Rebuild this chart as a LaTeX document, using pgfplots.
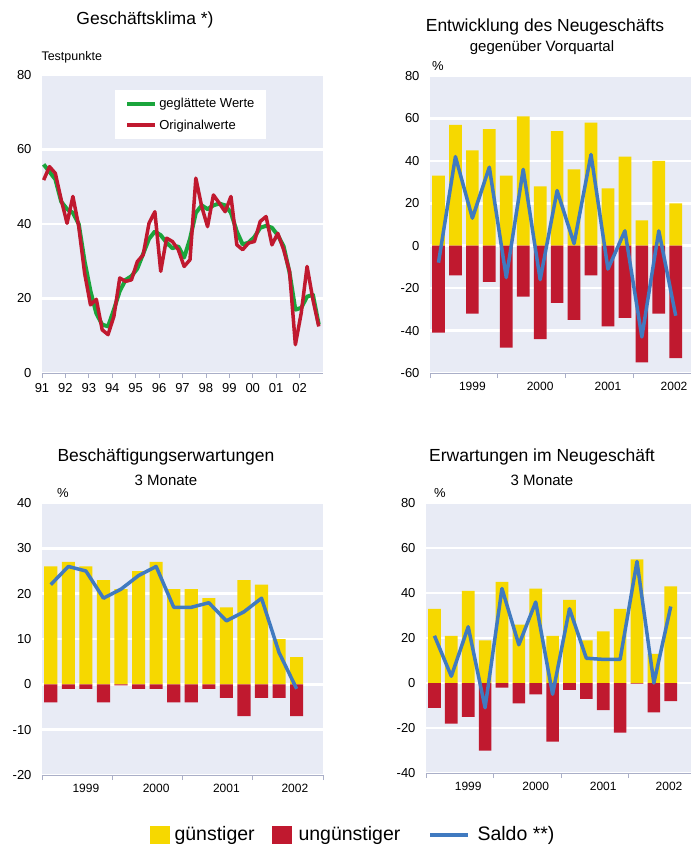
\documentclass[border=0pt]{standalone}
\usepackage{pgfplots}
\pgfplotsset{compat=1.18}
\usepackage{fontspec}
\setmainfont{Liberation Sans}
\definecolor{bgc}{RGB}{232,235,245}
\definecolor{gelb}{RGB}{246,216,0}
\definecolor{rot}{RGB}{192,25,47}
\definecolor{blau}{RGB}{64,122,192}
\definecolor{gruen}{RGB}{26,165,60}
\definecolor{achse}{RGB}{170,175,200}
\pgfplotsset{
  panel/.style={scale only axis,
    axis background/.style={fill=bgc},
    axis x line*=bottom, axis y line*=left,
    y axis line style={draw=none},
    x axis line style={achse, line width=0.8pt},
    xtick style={achse, line width=0.8pt}, major tick length=5pt,
    ytick style={draw=none},
    tick align=outside,
    ymajorgrids, grid style={white, line width=2.5pt},
    /pgf/number format/assume math mode=true,
    tick label style={font=\fontsize{13}{15}\selectfont},
    yticklabel style={xshift=-2pt},
    clip=false},
  barpanel/.style={panel, xmin=-0.5,
    xtick={-0.5,3.5,7.5,11.5,15.5}, xticklabels={},
    extra x ticks={2,6,10,13.9}, extra x tick labels={1999,2000,2001,2002},
    extra x tick style={major tick length=0pt, grid=none,
      xticklabel style={font=\fontsize{12}{14}\selectfont, yshift=-6pt}}},
}
\newcommand{\gel}{\addplot[ybar, bar width=0.75, bar shift=0pt, fill=gelb, draw=none]}
\newcommand{\ro}{\addplot[ybar, bar width=0.75, bar shift=0pt, fill=rot, draw=none]}
\newcommand{\bl}{\addplot[blau, line width=3.5pt, line join=round]}
\begin{document}
\begin{tikzpicture}[x=1pt,y=1pt]
\useasboundingbox (0,0) rectangle (691,-846);
% Panel 1
\begin{axis}[panel, at={(42pt,-373pt)}, anchor=south west, width=281pt, height=298pt,
  xmin=1991, xmax=2003, ymin=0, ymax=80, ytick={0,20,40,60,80},
  xtick={1991,...,2002}, xticklabels={91,92,93,94,95,96,97,98,99,00,01,02},
  xticklabel style={yshift=-2pt},
  legend style={at={(0.26,0.95)}, anchor=north west, draw=none, fill=white,
    font=\fontsize{13}{15}\selectfont, inner xsep=10pt, inner ysep=6pt, row sep=7pt},
  legend cell align=left,
  legend image code/.code={\draw[#1, line width=4pt] (0pt,0pt) -- (28pt,0pt);}]
\addplot[gruen, line width=4pt, line join=round] table[x expr=1991.07+0.25*\coordindex, y index=0] {
y
56
54
52
46
44
43
40
30
22
16
13
12.5
17
22
25
26
28
32
36
38
37
35
33.5
34
31
36
43
45
44
45
45.5
45
43
38
34.5
35
36.5
39
39.5
39
37
34
27
17
17.5
20.5
21
13
};
\addlegendentry{geglättete Werte}
\addplot[rot, line width=3.5pt, line join=round] table[x expr=1991.07+0.25*\coordindex, y index=0] {
y
51.8
55.4
53.6
46.5
40.2
47.4
39.3
26.8
18.3
19.8
11.6
10.3
15.2
25.5
24.6
25.0
29.9
31.7
40.2
43.3
27.3
36.2
35.3
33.1
28.6
30.4
52.3
44.7
39.3
47.8
45.6
43.3
47.4
34.4
33.1
34.9
35.3
40.7
42.0
34.4
37.5
33.1
27.3
7.6
16.1
28.6
19.7
12.5
};
\addlegendentry{Originalwerte}
\end{axis}
\node[font=\fontsize{17.5}{20}\selectfont] at (145,-20) {Geschäftsklima *)};
\node[font=\fontsize{12.5}{14}\selectfont, anchor=west] at (38,-57) {Testpunkte};
% Panel 2
\begin{axis}[barpanel, at={(430pt,-373pt)}, anchor=south west, width=261pt, height=297pt,
  xmax=14.9, ymin=-60, ymax=80, ytick={-60,-40,...,80}]
\gel coordinates {(0,33)(1,57)(2,45)(3,55)(4,33)(5,61)(6,28)(7,54)(8,36)(9,58)(10,27)(11,42)(12,12)(13,40)(14,20)};
\ro coordinates {(0,-41)(1,-14)(2,-32)(3,-17)(4,-48)(5,-24)(6,-44)(7,-27)(8,-35)(9,-14)(10,-38)(11,-34)(12,-55)(13,-32)(14,-53)};
\bl coordinates {(0,-8)(1,42)(2,13)(3,37)(4,-15)(5,36)(6,-16)(7,26)(8,1)(9,43)(10,-11)(11,7)(12,-43)(13,7)(14,-33)};
\end{axis}
\node[font=\fontsize{17.5}{20}\selectfont] at (545,-27) {Entwicklung des Neugeschäfts};
\node[font=\fontsize{15}{17}\selectfont] at (542,-48) {gegenüber Vorquartal};
\node[font=\fontsize{13}{15}\selectfont] at (438,-66) {\%};
% Panel 3
\begin{axis}[barpanel, at={(42pt,-775pt)}, anchor=south west, width=281pt, height=272pt,
  xmax=15.5, ymin=-20, ymax=40, ytick={-20,-10,...,40}]
\gel coordinates {(0,26)(1,27)(2,26)(3,23)(4,21)(5,25)(6,27)(7,21)(8,21)(9,19)(10,17)(11,23)(12,22)(13,10)(14,6)};
\ro coordinates {(0,-4)(1,-1)(2,-1)(3,-4)(4,-0.2)(5,-1)(6,-1)(7,-4)(8,-4)(9,-1)(10,-3)(11,-7)(12,-3)(13,-3)(14,-7)};
\bl coordinates {(0,22)(1,26)(2,25)(3,19)(4,21)(5,24)(6,26)(7,17)(8,17)(9,18)(10,14)(11,16)(12,19)(13,7)(14,-1)};
\end{axis}
\node[font=\fontsize{17.5}{20}\selectfont] at (166,-457) {Beschäftigungserwartungen};
\node[font=\fontsize{15}{17}\selectfont] at (166,-480) {3 Monate};
\node[font=\fontsize{13}{15}\selectfont] at (63,-493) {\%};
% Panel 4
\begin{axis}[barpanel, at={(426pt,-773pt)}, anchor=south west, width=265pt, height=270pt,
  xmax=15.2, ymin=-40, ymax=80, ytick={-40,-20,...,80}]
\gel coordinates {(0,33)(1,21)(2,41)(3,19)(4,45)(5,26)(6,42)(7,21)(8,37)(9,19)(10,23)(11,33)(12,55)(13,13)(14,43)};
\ro coordinates {(0,-11)(1,-18)(2,-15)(3,-30)(4,-2)(5,-9)(6,-5)(7,-26)(8,-3)(9,-7)(10,-12)(11,-22)(12,-0.3)(13,-13)(14,-8)};
\bl coordinates {(0,21)(1,3)(2,25)(3,-11)(4,42)(5,17)(6,36)(7,-5)(8,33)(9,11)(10,10.5)(11,10.5)(12,54)(13,0)(14,34)};
\end{axis}
\node[font=\fontsize{17.5}{20}\selectfont] at (542,-457) {Erwartungen im Neugeschäft};
\node[font=\fontsize{15}{17}\selectfont] at (542,-480) {3 Monate};
\node[font=\fontsize{13}{15}\selectfont] at (440,-493) {\%};
% Bottom legend
\fill[gelb] (150,-826) rectangle (170,-844);
\node[anchor=west, font=\fontsize{19.5}{22}\selectfont] at (171,-835) {günstiger};
\fill[rot] (272,-826) rectangle (292,-844);
\node[anchor=west, font=\fontsize{19.5}{22}\selectfont] at (295,-835) {ungünstiger};
\draw[blau, line width=4pt] (430,-835) -- (468,-835);
\node[anchor=west, font=\fontsize{19.5}{22}\selectfont] at (474,-835) {Saldo **)};
\end{tikzpicture}
\end{document}
